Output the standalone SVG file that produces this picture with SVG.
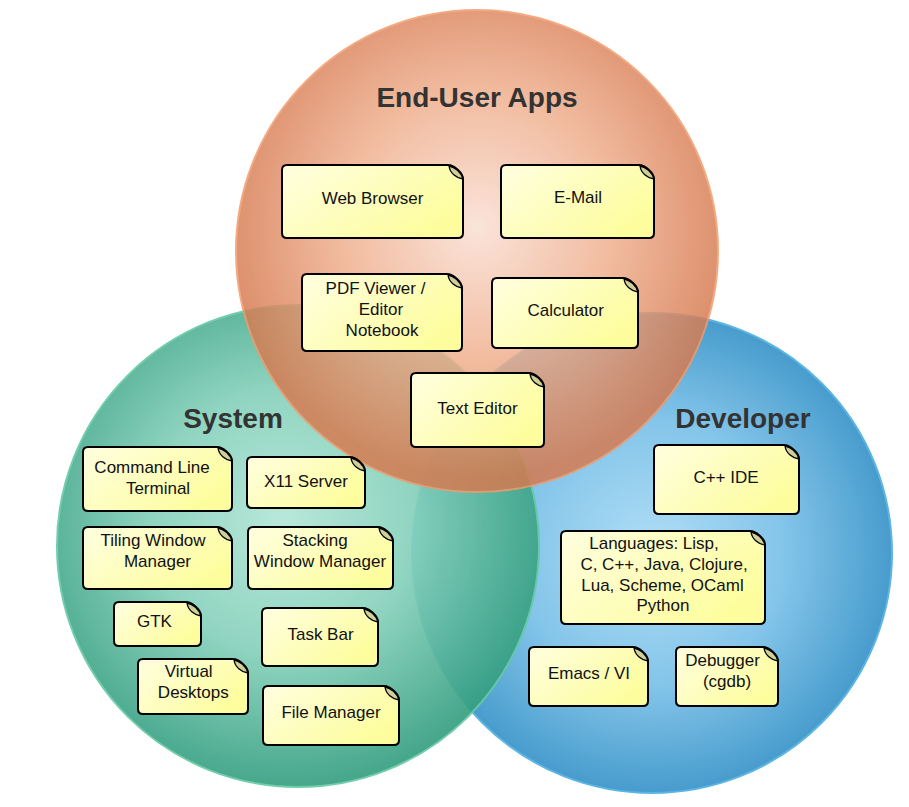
<svg xmlns="http://www.w3.org/2000/svg" width="909" height="807" viewBox="0 0 909 807">
<style>
.title{font-family:"Liberation Sans",Arial,sans-serif;font-weight:bold;font-size:28px;fill:#333;text-anchor:middle}
.note text{font-family:"Liberation Sans",Arial,sans-serif;font-size:17px;fill:#111;text-anchor:middle}
.body{fill:url(#noteGrad);stroke:#000;stroke-width:2;stroke-linejoin:round}
.leaf{fill:#cfcf98;stroke:#000;stroke-width:1.3;stroke-linejoin:round}
</style>
<defs>
<radialGradient id="gOrange" cx="0.5" cy="0.45" r="0.52">
<stop offset="0" stop-color="#fadfd3"/>
<stop offset="0.55" stop-color="#efae8c"/>
<stop offset="1" stop-color="#d67a50"/>
</radialGradient>
<radialGradient id="gGreen" cx="0.47" cy="0.45" r="0.55">
<stop offset="0" stop-color="#b3e6d8"/>
<stop offset="0.5" stop-color="#86d1bb"/>
<stop offset="1" stop-color="#37a082"/>
</radialGradient>
<radialGradient id="gBlue" cx="0.5" cy="0.5" r="0.55">
<stop offset="0" stop-color="#b0def5"/>
<stop offset="0.5" stop-color="#84c5ea"/>
<stop offset="1" stop-color="#3a93c6"/>
</radialGradient>
<linearGradient id="noteGrad" x1="0" y1="0" x2="1" y2="0.6">
<stop offset="0" stop-color="#fffee0"/>
<stop offset="1" stop-color="#fdfd9e"/>
</linearGradient>
</defs>

<g id="circles">
<circle id="developer" cx="652" cy="553" r="240" fill="url(#gBlue)" stroke="#5bb5e5" stroke-width="2"/>
<circle id="system" cx="298" cy="546" r="241" fill="url(#gGreen)" stroke="#66c9a6" stroke-width="2" opacity="0.92"/>
<circle id="enduser" cx="477" cy="251" r="241" fill="url(#gOrange)" stroke="#f29a6a" stroke-width="2" opacity="0.84"/>
</g>

<g id="titles">
<text class="title" x="477" y="107">End-User Apps</text>
<text class="title" x="233" y="428">System</text>
<text class="title" x="743" y="428">Developer</text>
</g>

<g id="connectors"></g>

<g id="n-webbrowser" class="note" transform="translate(282,165)">
<path class="body" d="M5,0H166C172,0 181,8 181,14V68Q181,73 176,73H5Q0,73 0,68V5Q0,0 5,0Z"/>
<path class="leaf" d="M167,1C168,8 174,13 181,14C179,7 173,2 167,1Z"/>
<text x="90.5" y="39">Web Browser</text>
</g>
<g id="n-email" class="note" transform="translate(501,165)">
<path class="body" d="M5,0H138C144,0 153,8 153,14V68Q153,73 148,73H5Q0,73 0,68V5Q0,0 5,0Z"/>
<path class="leaf" d="M139,1C140,8 146,13 153,14C151,7 145,2 139,1Z"/>
<text x="77" y="38">E-Mail</text>
</g>
<g id="n-pdf" class="note" transform="translate(302,274)">
<path class="body" d="M5,0H145C151,0 160,8 160,14V72Q160,77 155,77H5Q0,77 0,72V5Q0,0 5,0Z"/>
<path class="leaf" d="M146,1C147,8 153,13 160,14C158,7 152,2 146,1Z"/>
<text x="73.5" y="20">PDF Viewer /</text>
<text x="79" y="41">Editor</text>
<text x="80" y="62">Notebook</text>
</g>
<g id="n-calculator" class="note" transform="translate(492,278)">
<path class="body" d="M5,0H131C137,0 146,8 146,14V65Q146,70 141,70H5Q0,70 0,65V5Q0,0 5,0Z"/>
<path class="leaf" d="M132,1C133,8 139,13 146,14C144,7 138,2 132,1Z"/>
<text x="73.7" y="38">Calculator</text>
</g>
<g id="n-texteditor" class="note" transform="translate(411,373)">
<path class="body" d="M5,0H118C124,0 133,8 133,14V69Q133,74 128,74H5Q0,74 0,69V5Q0,0 5,0Z"/>
<path class="leaf" d="M119,1C120,8 126,13 133,14C131,7 125,2 119,1Z"/>
<text x="66.5" y="41">Text Editor</text>
</g>

<g id="n-terminal" class="note" transform="translate(83,447)">
<path class="body" d="M5,0H134C140,0 149,8 149,14V59Q149,64 144,64H5Q0,64 0,59V5Q0,0 5,0Z"/>
<path class="leaf" d="M135,1C136,8 142,13 149,14C147,7 141,2 135,1Z"/>
<text x="69" y="26">Command Line</text>
<text x="75" y="47">Terminal</text>
</g>
<g id="n-x11" class="note" transform="translate(247,457)">
<path class="body" d="M5,0H103C109,0 118,8 118,14V46Q118,51 113,51H5Q0,51 0,46V5Q0,0 5,0Z"/>
<path class="leaf" d="M104,1C105,8 111,13 118,14C116,7 110,2 104,1Z"/>
<text x="59" y="30">X11 Server</text>
</g>
<g id="n-tiling" class="note" transform="translate(83,527)">
<path class="body" d="M5,0H134C140,0 149,8 149,14V57Q149,62 144,62H5Q0,62 0,57V5Q0,0 5,0Z"/>
<path class="leaf" d="M135,1C136,8 142,13 149,14C147,7 141,2 135,1Z"/>
<text x="70" y="19">Tiling Window</text>
<text x="74.5" y="40">Manager</text>
</g>
<g id="n-stacking" class="note" transform="translate(248,527)">
<path class="body" d="M5,0H130C136,0 145,8 145,14V57Q145,62 140,62H5Q0,62 0,57V5Q0,0 5,0Z"/>
<path class="leaf" d="M131,1C132,8 138,13 145,14C143,7 137,2 131,1Z"/>
<text x="67" y="19">Stacking</text>
<text x="72" y="40">Window Manager</text>
</g>
<g id="n-gtk" class="note" transform="translate(114,602)">
<path class="body" d="M5,0H72C78,0 87,8 87,14V39Q87,44 82,44H5Q0,44 0,39V5Q0,0 5,0Z"/>
<path class="leaf" d="M73,1C74,8 80,13 87,14C85,7 79,2 73,1Z"/>
<text x="40.5" y="25">GTK</text>
</g>
<g id="n-taskbar" class="note" transform="translate(262,608)">
<path class="body" d="M5,0H101C107,0 116,8 116,14V53Q116,58 111,58H5Q0,58 0,53V5Q0,0 5,0Z"/>
<path class="leaf" d="M102,1C103,8 109,13 116,14C114,7 108,2 102,1Z"/>
<text x="58.5" y="32">Task Bar</text>
</g>
<g id="n-virtual" class="note" transform="translate(138,659)">
<path class="body" d="M5,0H95C101,0 110,8 110,14V50Q110,55 105,55H5Q0,55 0,50V5Q0,0 5,0Z"/>
<path class="leaf" d="M96,1C97,8 103,13 110,14C108,7 102,2 96,1Z"/>
<text x="50.7" y="18">Virtual</text>
<text x="55.3" y="39">Desktops</text>
</g>
<g id="n-filemanager" class="note" transform="translate(263,686)">
<path class="body" d="M5,0H121C127,0 136,8 136,14V54Q136,59 131,59H5Q0,59 0,54V5Q0,0 5,0Z"/>
<path class="leaf" d="M122,1C123,8 129,13 136,14C134,7 128,2 122,1Z"/>
<text x="68" y="32">File Manager</text>
</g>

<g id="n-cppide" class="note" transform="translate(654,445)">
<path class="body" d="M5,0H130C136,0 145,8 145,14V64Q145,69 140,69H5Q0,69 0,64V5Q0,0 5,0Z"/>
<path class="leaf" d="M131,1C132,8 138,13 145,14C143,7 137,2 131,1Z"/>
<text x="72" y="38">C++ IDE</text>
</g>
<g id="n-languages" class="note" transform="translate(561,531)">
<path class="body" d="M5,0H189C195,0 204,8 204,14V88Q204,93 199,93H5Q0,93 0,88V5Q0,0 5,0Z"/>
<path class="leaf" d="M190,1C191,8 197,13 204,14C202,7 196,2 190,1Z"/>
<text x="93" y="18">Languages: Lisp,</text>
<text x="103" y="39">C, C++, Java, Clojure,</text>
<text x="101.5" y="60">Lua, Scheme, OCaml</text>
<text x="102" y="80">Python</text>
</g>
<g id="n-emacs" class="note" transform="translate(529,647)">
<path class="body" d="M5,0H104C110,0 119,8 119,14V54Q119,59 114,59H5Q0,59 0,54V5Q0,0 5,0Z"/>
<path class="leaf" d="M105,1C106,8 112,13 119,14C117,7 111,2 105,1Z"/>
<text x="60" y="32">Emacs / VI</text>
</g>
<g id="n-debugger" class="note" transform="translate(676,647)">
<path class="body" d="M5,0H87C93,0 102,8 102,14V54Q102,59 97,59H5Q0,59 0,54V5Q0,0 5,0Z"/>
<path class="leaf" d="M88,1C89,8 95,13 102,14C100,7 94,2 88,1Z"/>
<text x="46.5" y="19">Debugger</text>
<text x="51" y="40">(cgdb)</text>
</g>
</svg>
